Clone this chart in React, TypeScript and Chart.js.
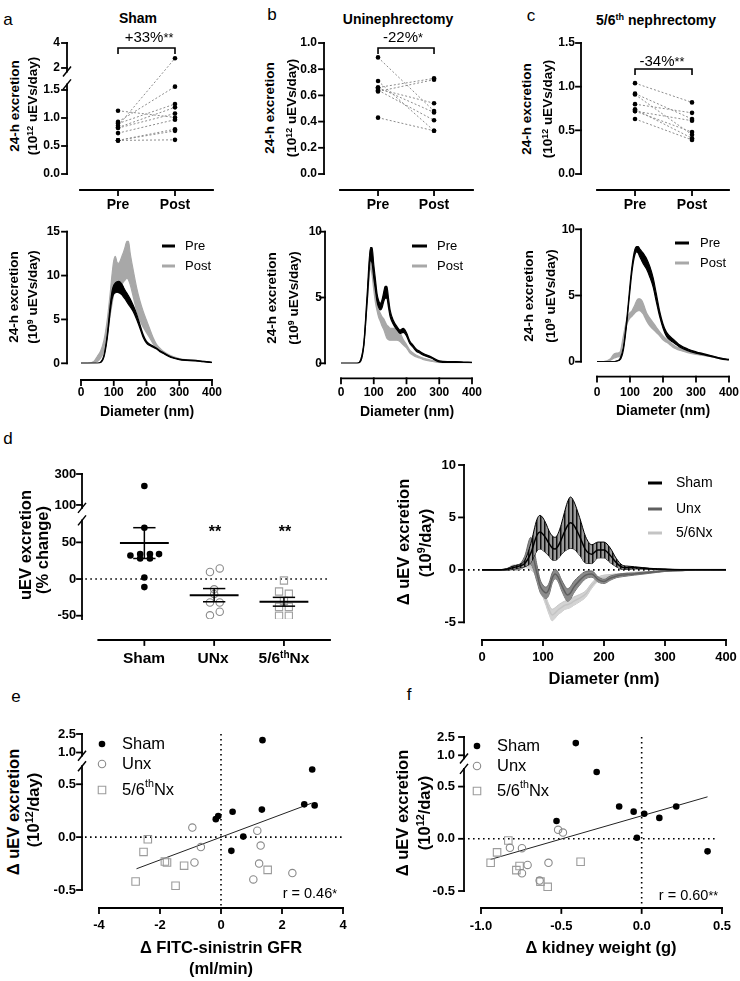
import React, { useEffect, useRef } from 'react';
import { Chart, registerables } from 'chart.js';

Chart.register(...registerables);

const FONT = '"Liberation Sans", Arial, Helvetica, sans-serif';

// ---------------- a–c (top): paired 24-h excretion (10^12 uEVs/day) ----------------
const pairLabels = ['Pre', 'Post'];
const shamPre = [0.86, 0.93, 1.13, 0.9, 0.83, 0.82, 0.73, 0.6, 0.6, 0.6];
const shamPost = [2.78, 1.56, 1.01, 1.25, 1.19, 1.08, 0.97, 0.8, 0.77, 0.61];
const unxPre = [0.89, 0.71, 0.66, 0.65, 0.64, 0.63, 0.66, 0.43];
const unxPost = [0.48, 0.33, 0.73, 0.54, 0.41, 0.72, 0.47, 0.33];
const nxPre = [1.04, 0.92, 0.91, 0.8, 0.74, 0.72, 0.72, 0.63];
const nxPost = [0.82, 0.63, 0.45, 0.7, 0.41, 0.61, 0.48, 0.39];
const shamTopTicks = [0, 0.5, 1, 1.5, 2, 4];
const shamTopLabels = ['0.0', '0.5', '1.0', '1.5', '2', '4'];
const unxTopTicks = [0, 0.2, 0.4, 0.6, 0.8, 1.0];
const unxTopLabels = ['0.0', '0.2', '0.4', '0.6', '0.8', '1.0'];
const nxTopTicks = [0, 0.5, 1.0, 1.5];
const nxTopLabels = ['0.0', '0.5', '1.0', '1.5'];

// ---------------- a–c (bottom): size distributions (10^9 uEVs/day) ----------------
const diam = [0, 20, 40, 50, 60, 70, 80, 90, 95, 100, 105, 110, 115, 120, 125, 130, 135, 140, 145, 150, 160, 170, 180, 190, 200, 210, 220, 230, 240, 250, 275, 300, 325, 350, 375, 400];
const diamTicks = [0, 100, 200, 300, 400];
const diamLabels = ['0', '100', '200', '300', '400'];

const shamPreMean = [0, 0, 0, 0, 0.1, 0.8, 3.0, 6.5, 7.8, 8.4, 8.6, 8.7, 8.7, 8.6, 8.4, 8.1, 7.8, 7.5, 7.2, 6.9, 6.2, 5.3, 4.2, 3.1, 2.4, 2.1, 1.9, 1.7, 1.4, 1.2, 0.7, 0.45, 0.35, 0.3, 0.2, 0.1];
const shamPreSem = [0, 0, 0, 0, 0.02, 0.1, 0.2, 0.35, 0.45, 0.5, 0.55, 0.6, 0.65, 0.65, 0.6, 0.55, 0.5, 0.5, 0.5, 0.45, 0.35, 0.3, 0.2, 0.15, 0.1, 0.08, 0.06, 0.05, 0.05, 0.05, 0.04, 0.03, 0.03, 0.03, 0.02, 0.02];
const shamPostMean = [0, 0, 0.15, 0.5, 1.0, 2.0, 4.0, 7.0, 8.5, 9.8, 10.3, 10.0, 10.0, 10.2, 10.6, 11.0, 11.4, 11.8, 11.7, 10.8, 9.0, 7.3, 6.0, 5.0, 4.2, 3.4, 2.6, 2.0, 1.6, 1.3, 0.8, 0.5, 0.35, 0.3, 0.2, 0.1];
const shamPostSem = [0, 0, 0.1, 0.3, 0.4, 0.6, 0.9, 1.3, 1.7, 1.9, 1.9, 1.5, 1.4, 1.5, 1.6, 1.7, 1.9, 2.1, 2.2, 1.8, 1.5, 1.3, 1.1, 0.9, 0.7, 0.5, 0.35, 0.2, 0.15, 0.1, 0.05, 0.05, 0.04, 0.03, 0.03, 0.02];

const unxPreMean = [0, 0, 0, 0, 0.2, 1.5, 5.0, 8.3, 8.2, 7.0, 6.0, 5.0, 4.5, 4.3, 4.5, 5.0, 5.4, 5.4, 4.6, 3.8, 3.1, 2.7, 2.4, 2.5, 2.2, 1.6, 1.3, 1.0, 0.85, 0.7, 0.45, 0.15, 0.1, 0.1, 0.08, 0.05];
const unxPreSem = [0, 0, 0, 0, 0.05, 0.1, 0.3, 0.5, 0.6, 0.5, 0.4, 0.3, 0.25, 0.25, 0.3, 0.35, 0.45, 0.45, 0.35, 0.25, 0.15, 0.12, 0.12, 0.15, 0.12, 0.1, 0.08, 0.08, 0.07, 0.06, 0.05, 0.04, 0.03, 0.03, 0.02, 0.02];
const unxPostMean = [0, 0, 0, 0, 0.2, 1.5, 4.8, 7.6, 7.2, 6.0, 5.0, 4.3, 3.8, 3.5, 3.2, 3.0, 2.7, 2.4, 2.3, 2.2, 2.2, 2.2, 2.0, 1.6, 1.3, 0.9, 0.7, 0.55, 0.45, 0.35, 0.2, 0.08, 0.05, 0.05, 0.05, 0.05];
const unxPostSem = [0, 0, 0, 0, 0.05, 0.1, 0.2, 0.4, 0.5, 0.4, 0.35, 0.3, 0.3, 0.3, 0.35, 0.4, 0.45, 0.5, 0.5, 0.45, 0.45, 0.45, 0.35, 0.2, 0.12, 0.1, 0.08, 0.06, 0.05, 0.05, 0.04, 0.03, 0.02, 0.02, 0.02, 0.02];

const nxPreMean = [0, 0, 0, 0, 0.05, 0.2, 1.0, 3.0, 4.3, 5.6, 6.8, 7.7, 8.3, 8.5, 8.45, 8.2, 8.0, 7.8, 7.6, 7.4, 6.8, 6.0, 4.8, 3.6, 2.7, 2.1, 1.8, 1.6, 1.4, 1.2, 0.9, 0.7, 0.55, 0.4, 0.25, 0.15];
const nxPreSem = [0, 0, 0, 0, 0, 0.05, 0.1, 0.15, 0.15, 0.2, 0.2, 0.2, 0.2, 0.2, 0.25, 0.3, 0.35, 0.4, 0.4, 0.4, 0.4, 0.35, 0.3, 0.2, 0.15, 0.15, 0.15, 0.12, 0.1, 0.08, 0.06, 0.05, 0.04, 0.03, 0.03, 0.02];
const nxPostMean = [0, 0, 0.15, 0.4, 0.5, 0.6, 1.8, 3.0, 3.3, 3.5, 3.6, 3.8, 4.0, 4.2, 4.3, 4.3, 4.2, 4.0, 3.7, 3.4, 3.0, 2.7, 2.4, 2.1, 1.8, 1.6, 1.4, 1.2, 1.05, 0.95, 0.75, 0.6, 0.5, 0.4, 0.25, 0.15];
const nxPostSem = [0, 0, 0.05, 0.15, 0.15, 0.15, 0.15, 0.2, 0.2, 0.2, 0.2, 0.25, 0.3, 0.4, 0.45, 0.45, 0.45, 0.4, 0.35, 0.3, 0.3, 0.25, 0.2, 0.15, 0.15, 0.12, 0.1, 0.1, 0.08, 0.08, 0.06, 0.05, 0.04, 0.04, 0.03, 0.02];

// ---------------- d (left): % change ----------------
const groupLabels = ['Sham', 'UNx', '5/6thNx'];
const shamPct = [222, 70, 32, 34, 34, 34, 28, 28, 2, -11];
const shamSpread = [0, 0, -0.2, -0.06, 0.08, 0.21, -0.06, 0.08, 0, 0];
const unxPct = [14.5, 9.6, -14, -20.5, -32, -32, -44.6, -49.5];
const unxSpread = [0.08, -0.06, 0, 0, -0.06, 0.08, 0.08, -0.06];
const nxPct = [-2, -17, -20, -30, -38, -38, -50, -50];
const nxSpread = [0, -0.07, 0.07, 0, -0.07, 0.07, -0.07, 0.07];
const pctMean = [49, -22, -31];
const pctSemHi = [70, -13, -25];
const pctSemLo = [28, -31, -37];
const pctTicks = [-50, 0, 50, 100, 300];
const pctTickLabels = ['-50', '0', '50', '100', '300'];

// ---------------- d (right): delta distributions (10^9/day) ----------------
const dShamMean = [0, 0, 0.05, 0.2, 0.35, 0.6, 1.6, 3.3, 3.6, 3.4, 3.0, 2.5, 2.1, 2.0, 2.3, 2.9, 3.6, 4.2, 4.5, 4.3, 3.2, 1.9, 1.5, 1.9, 1.9, 1.4, 0.7, 0.25, 0.2, 0.2, 0.1, 0.05, 0.02, 0.02, 0.02, 0.02];
const dShamSem = [0, 0, 0.05, 0.15, 0.15, 0.3, 0.9, 1.5, 1.6, 1.55, 1.4, 1.2, 1.15, 1.1, 1.2, 1.45, 1.85, 2.25, 2.45, 2.3, 1.8, 1.25, 0.9, 0.75, 0.75, 0.7, 0.4, 0.2, 0.15, 0.1, 0.05, 0.03, 0.02, 0.02, 0.02, 0.02];
const dUnxMean = [0, 0, 0, 0.1, 0.2, 0.8, 1.8, -0.3, -1.5, -2.0, -2.2, -1.8, -0.8, -0.4, -0.7, -1.4, -2.0, -2.4, -2.2, -1.7, -1.0, -0.5, -0.4, -0.9, -1.1, -0.8, -0.6, -0.5, -0.45, -0.4, -0.25, -0.1, -0.05, 0, 0, 0];
const dUnxSem = [0, 0, 0, 0.1, 0.2, 0.5, 1.3, 0.8, 0.6, 0.55, 0.55, 0.55, 0.5, 0.45, 0.45, 0.5, 0.55, 0.6, 0.6, 0.55, 0.45, 0.35, 0.3, 0.25, 0.2, 0.2, 0.15, 0.15, 0.12, 0.1, 0.08, 0.05, 0.03, 0.02, 0.02, 0.02];
const dNxMean = [0, 0, 0.05, 0.3, 0.35, 0.4, 0.3, -0.4, -1.2, -2.2, -3.0, -3.8, -4.3, -4.1, -3.8, -3.6, -3.4, -3.3, -3.2, -3.0, -2.7, -2.3, -1.5, -0.9, -0.7, -0.6, -0.5, -0.45, -0.35, -0.3, -0.2, -0.1, -0.05, -0.02, 0, 0];
const dNxSem = [0, 0, 0.05, 0.15, 0.15, 0.2, 0.3, 0.3, 0.35, 0.4, 0.4, 0.45, 0.55, 0.5, 0.45, 0.45, 0.4, 0.4, 0.4, 0.4, 0.35, 0.3, 0.25, 0.2, 0.2, 0.15, 0.12, 0.1, 0.1, 0.08, 0.06, 0.05, 0.03, 0.02, 0.02, 0.02];
const deltaTicks = [-5, 0, 5, 10];
const deltaLabels = ['-5', '0', '5', '10'];

// ---------------- e / f: correlations (10^12/day) ----------------
const corrTicks = [-0.5, 0, 0.5, 1.0, 2.5];
const corrTickLabels = ['-0.5', '0.0', '0.5', '1.0', '2.5'];
const eShamX = [1.36, 2.99, 2.73, 3.07, 1.34, 0.38, -0.09, -0.17, 0.73, 0.34];
const eShamY = [2.0, 0.64, 0.31, 0.3, 0.26, 0.24, 0.2, 0.17, 0.005, -0.13];
const eUnxX = [-0.94, -0.66, -0.87, 1.19, 1.3, 1.25, 1.06, 2.34];
const eUnxY = [0.09, -0.094, -0.24, 0.06, -0.08, -0.25, -0.4, -0.34];
const eNxX = [-2.4, -2.54, -1.84, -1.77, -1.21, 1.53, -2.8, -1.49];
const eNxY = [-0.02, -0.14, -0.23, -0.24, -0.27, -0.31, -0.42, -0.46];
const eXTicks = [-4, -2, 0, 2, 4];
const eXLabels = ['-4', '-2', '0', '2', '4'];
const eReg = { slope: 0.108, intercept: 0.0, from: -2.77, to: 2.97 };

const fShamX = [-0.41, -0.28, -0.14, -0.05, 0.016, 0.11, 0.215, -0.53, -0.03, 0.41];
const fShamY = [2.0, 0.64, 0.31, 0.26, 0.24, 0.2, 0.31, 0.17, 0.01, -0.12];
const fUnxX = [-0.52, -0.49, -0.82, -0.745, -0.71, -0.745, -0.58, -0.635];
const fUnxY = [0.086, 0.06, -0.086, -0.09, -0.25, -0.33, -0.23, -0.4];
const fNxX = [-0.83, -0.9, -0.94, -0.76, -0.78, -0.63, -0.585, -0.38];
const fNxY = [-0.016, -0.13, -0.23, -0.26, -0.3, -0.41, -0.46, -0.22];
const fXTicks = [-1, -0.5, 0, 0.5];
const fXLabels = ['-1.0', '-0.5', '0.0', '0.5'];
const fReg = { slope: 0.444, intercept: 0.22, from: -0.94, to: 0.41 };
const corrLegend = ['Sham', 'Unx', '5/6^{th}Nx'];

// ---------------- broken-axis transforms ----------------
const fwdA = (v: number) => (v <= 1.7 ? v : 1.893 + (v - 2) * 0.223);
const fwdD = (v: number) => (v <= 90 ? v : 101 + (v - 100) * 0.211);
const fwdEF = (v: number) => (v <= 0.75 ? v : 0.8 + (v - 1) * 0.1167);
const ident = (v: number) => v;

type Rect = { x: number; y: number; w: number; h: number };
type Area = { l: number; t: number; r: number; b: number };

function seg(ctx: any, x0: number, y0: number, x1: number, y1: number) {
  ctx.beginPath();
  ctx.moveTo(x0, y0);
  ctx.lineTo(x1, y1);
  ctx.stroke();
}

function drawRich(ctx: any, s: string, x: number, y: number, size: number, weight = 'normal') {
  const parts = s.split(/(\^\{[^}]*\})/).filter(Boolean);
  let cx = x;
  ctx.textAlign = 'left';
  ctx.textBaseline = 'middle';
  for (const p of parts) {
    const sup = p.startsWith('^{');
    const t = sup ? p.slice(2, -1) : p;
    ctx.font = `${weight} ${sup ? size * 0.65 : size}px ${FONT}`;
    ctx.fillText(t, cx, sup ? y - size * 0.38 : y);
    cx += ctx.measureText(t).width;
  }
}

interface ScaleSpec {
  xMin: number; xMax: number; xTicks: number[]; xLabels: string[]; xPad: number; xFont: number; xShow?: boolean;
  yMin: number; yMax: number; yTicks: number[]; yLabels: string[]; yPad: number; yFont: number;
}

function baseOptions(rect: Rect, area: Area, s: ScaleSpec): any {
  const yW = area.l - rect.x;
  const xH = rect.y + rect.h - area.b;
  const tf = (size: number) => ({ family: FONT, size, weight: 'bold' });
  return {
    responsive: false,
    animation: false,
    events: [],
    layout: { padding: { top: area.t - rect.y, right: rect.x + rect.w - area.r, left: 0, bottom: 0 } },
    plugins: { legend: { display: false }, tooltip: { enabled: false } },
    scales: {
      x: {
        type: 'linear', min: s.xMin, max: s.xMax,
        grid: { display: false, drawTicks: false }, border: { display: false },
        afterBuildTicks: (sc: any) => { sc.ticks = s.xTicks.map((value) => ({ value })); },
        afterFit: (sc: any) => { sc.height = xH; sc.paddingLeft = 0; sc.paddingRight = 0; },
        ticks: {
          display: s.xShow !== false, padding: s.xPad, color: '#000', autoSkip: false, maxRotation: 0, minRotation: 0,
          font: tf(s.xFont), callback: (_v: any, i: number) => s.xLabels[i],
        },
      },
      y: {
        type: 'linear', min: s.yMin, max: s.yMax,
        grid: { display: false, drawTicks: false }, border: { display: false },
        afterBuildTicks: (sc: any) => { sc.ticks = s.yTicks.map((value) => ({ value })); },
        afterFit: (sc: any) => { sc.width = yW; sc.paddingTop = 0; sc.paddingBottom = 0; },
        ticks: { padding: s.yPad, color: '#000', autoSkip: false, font: tf(s.yFont), callback: (_v: any, i: number) => s.yLabels[i] },
      },
    },
  };
}

interface AxesOpt {
  yDx: number; xDy: number; ySegs?: number[][]; breaks?: number[];
  hDot?: { v: number; left: number; right?: number }; vDot?: number;
}

function gpAxes(o: AxesOpt) {
  return {
    id: 'gpAxes',
    beforeDatasetsDraw(chart: any) {
      const { ctx, chartArea: a, scales } = chart;
      ctx.save();
      ctx.strokeStyle = '#000';
      ctx.lineWidth = 1.6;
      ctx.setLineDash([1.6, 3.4]);
      if (o.hDot) {
        const py = scales.y.getPixelForValue(o.hDot.v);
        seg(ctx, a.left - o.hDot.left, py, a.right - (o.hDot.right ?? 0), py);
      }
      if (o.vDot !== undefined) {
        const px = scales.x.getPixelForValue(o.vDot);
        seg(ctx, px, a.top, px, a.bottom + o.xDy);
      }
      ctx.restore();
    },
    afterDraw(chart: any) {
      const { ctx, chartArea: a, scales } = chart;
      const x = scales.x;
      const y = scales.y;
      ctx.save();
      ctx.strokeStyle = '#000';
      ctx.lineWidth = 1.8;
      ctx.lineCap = 'square';
      const X = a.left - o.yDx;
      const segs = o.ySegs ?? [[y.min, y.max]];
      segs.forEach(([s0, s1]) => seg(ctx, X, y.getPixelForValue(s0), X, y.getPixelForValue(s1)));
      y.ticks.forEach((t: any) => { const py = y.getPixelForValue(t.value); seg(ctx, X - 5, py, X, py); });
      const Y = a.bottom + o.xDy;
      seg(ctx, a.left, Y, a.right, Y);
      x.ticks.forEach((t: any) => { const px = x.getPixelForValue(t.value); seg(ctx, px, Y, px, Y + 5); });
      ctx.lineCap = 'butt';
      ctx.lineWidth = 1.5;
      (o.breaks ?? []).forEach((v) => { const py = y.getPixelForValue(v); seg(ctx, X - 4, py + 5, X + 4, py - 5); });
      ctx.restore();
    },
  };
}

function bracket(dy: number) {
  return {
    id: 'bracket',
    afterDraw(chart: any) {
      const { ctx, chartArea: a, scales } = chart;
      const x0 = scales.x.getPixelForValue(0);
      const x1 = scales.x.getPixelForValue(1);
      const yb = a.top + dy;
      ctx.save();
      ctx.strokeStyle = '#000';
      ctx.lineWidth = 1.6;
      ctx.beginPath();
      ctx.moveTo(x0, yb + 6);
      ctx.lineTo(x0, yb);
      ctx.lineTo(x1, yb);
      ctx.lineTo(x1, yb + 6);
      ctx.stroke();
      ctx.restore();
    },
  };
}

function legendLines(rect: Rect, o: { x0: number; x1: number; tx: number; ys: number[]; ds: number[]; size: number }) {
  return {
    id: 'legendLines',
    afterDraw(chart: any) {
      const ctx = chart.ctx;
      ctx.save();
      o.ds.forEach((di, k) => {
        const d = chart.data.datasets[di];
        const y = o.ys[k] - rect.y;
        ctx.strokeStyle = d.borderColor;
        ctx.lineWidth = 3;
        seg(ctx, o.x0 - rect.x, y, o.x1 - rect.x, y);
        ctx.fillStyle = '#000';
        drawRich(ctx, d.label, o.tx - rect.x, y, o.size);
      });
      ctx.restore();
    },
  };
}

function drawMarker(ctx: any, d: any, x: number, y: number) {
  const r = d.pointRadius;
  ctx.beginPath();
  if (d.pointStyle === 'rect') {
    const s = r * Math.SQRT1_2;
    ctx.rect(x - s, y - s, 2 * s, 2 * s);
  } else {
    ctx.arc(x, y, r, 0, Math.PI * 2);
  }
  ctx.fillStyle = d.pointBackgroundColor;
  ctx.fill();
  if (d.pointBorderWidth) {
    ctx.lineWidth = d.pointBorderWidth;
    ctx.strokeStyle = d.pointBorderColor;
    ctx.stroke();
  }
}

function legendPoints(rect: Rect, o: { mx: number; tx: number; ys: number[]; ds: number[]; size: number }) {
  return {
    id: 'legendPoints',
    afterDraw(chart: any) {
      const ctx = chart.ctx;
      ctx.save();
      o.ds.forEach((di, k) => {
        const d = chart.data.datasets[di];
        const y = o.ys[k] - rect.y;
        drawMarker(ctx, d, o.mx - rect.x, y);
        ctx.fillStyle = '#000';
        drawRich(ctx, d.label, o.tx - rect.x, y, o.size);
      });
      ctx.restore();
    },
  };
}

function meanSem(fwd: (v: number) => number) {
  return {
    id: 'meanSem',
    afterDatasetsDraw(chart: any) {
      const { ctx, scales } = chart;
      const px = (v: number) => scales.x.getPixelForValue(v);
      const py = (v: number) => scales.y.getPixelForValue(fwd(v));
      ctx.save();
      ctx.strokeStyle = '#000';
      pctMean.forEach((m, i) => {
        ctx.lineWidth = 2;
        seg(ctx, px(i - 0.35), py(m), px(i + 0.35), py(m));
        ctx.lineWidth = 1.5;
        seg(ctx, px(i), py(pctSemLo[i]), px(i), py(pctSemHi[i]));
        seg(ctx, px(i - 0.16), py(pctSemHi[i]), px(i + 0.16), py(pctSemHi[i]));
        seg(ctx, px(i - 0.16), py(pctSemLo[i]), px(i + 0.16), py(pctSemLo[i]));
      });
      ctx.restore();
    },
  };
}

const pts = (ys: number[]) => ys.map((y, i) => ({ x: diam[i], y }));
const addSem = (m: number[], s: number[], k: number) => m.map((v, i) => v + k * s[i]);

function bandSets(label: string, m: number[], s: number[], fill: any, edge: string, lw: number) {
  return [
    { label, data: pts(addSem(m, s, 1)), borderColor: edge, borderWidth: lw, backgroundColor: fill, fill: '+1', pointRadius: 0, cubicInterpolationMode: 'monotone' },
    { data: pts(addSem(m, s, -1)), borderColor: edge, borderWidth: lw, fill: false, pointRadius: 0, cubicInterpolationMode: 'monotone' },
  ];
}

// ---------------- chart builders ----------------
function makePaired(rect: Rect, area: Area, pre: number[], post: number[], fwd: (v: number) => number, yMax: number,
  yTicks: number[], yLabels: string[], yPad: number, xMin: number, xMax: number, axes: AxesOpt, brDy: number) {
  const options = baseOptions(rect, area, {
    xMin, xMax, xTicks: [0, 1], xLabels: pairLabels, xPad: 22.6, xFont: 14,
    yMin: 0, yMax, yTicks: yTicks.map(fwd), yLabels, yPad, yFont: 12,
  });
  return {
    type: 'scatter',
    data: {
      datasets: pre.map((p, i) => ({
        data: [{ x: 0, y: fwd(p) }, { x: 1, y: fwd(post[i]) }],
        showLine: true, borderColor: '#8c8c8c', borderWidth: 1, borderDash: [2, 2],
        pointRadius: 2.3, pointBackgroundColor: '#000', pointBorderWidth: 0,
      })),
    },
    options,
    plugins: [gpAxes(axes), bracket(brDy)],
  };
}

function makeDist(rect: Rect, area: Area, preM: number[], preS: number[], postM: number[], postS: number[], yMax: number,
  yTicks: number[], yPad: number, xPad: number, axes: AxesOpt, leg: { x0: number; x1: number; tx: number; ys: number[] }) {
  const options = baseOptions(rect, area, {
    xMin: 0, xMax: 400, xTicks: diamTicks, xLabels: diamLabels, xPad, xFont: 12,
    yMin: 0, yMax, yTicks, yLabels: yTicks.map(String), yPad, yFont: 12,
  });
  return {
    type: 'line',
    data: {
      datasets: [
        ...bandSets('Pre', preM, preS, '#000', '#000', 1.2),
        ...bandSets('Post', postM, postS, '#a8a8a8', '#a8a8a8', 1.2),
      ],
    },
    options,
    plugins: [gpAxes(axes), legendLines(rect, { ...leg, ds: [0, 2], size: 13 })],
  };
}

function stripes() {
  const c = document.createElement('canvas');
  c.width = 4;
  c.height = 4;
  const g = c.getContext('2d')!;
  g.fillStyle = '#9a9a9a';
  g.fillRect(0, 0, 4, 4);
  g.fillStyle = '#111';
  g.fillRect(0, 0, 1, 4);
  g.fillStyle = '#555';
  g.fillRect(1, 0, 1, 4);
  return g.createPattern(c, 'repeat');
}

function makeDelta(rect: Rect, area: Area) {
  const options = baseOptions(rect, area, {
    xMin: 0, xMax: 400, xTicks: diamTicks, xLabels: diamLabels, xPad: 27.3, xFont: 13,
    yMin: -5, yMax: 10, yTicks: deltaTicks, yLabels: deltaLabels, yPad: 26, yFont: 13,
  });
  const meanSet = (label: string, m: number[], color: string) => ({ label, data: pts(m), borderColor: color, borderWidth: 1.5, pointRadius: 0, fill: false, cubicInterpolationMode: 'monotone' });
  const sb = bandSets('', dShamMean, dShamSem, stripes(), '#000', 1);
  const ub = bandSets('', dUnxMean, dUnxSem, '#8a8a8a', '#6a6a6a', 1);
  const nb = bandSets('', dNxMean, dNxSem, '#d3d3d3', '#c6c6c6', 1);
  return {
    type: 'line',
    data: {
      datasets: [
        meanSet('Sham', dShamMean, '#000'), ...sb,
        meanSet('Unx', dUnxMean, '#5f5f5f'), ...ub,
        meanSet('5/6Nx', dNxMean, '#c4c4c4'), ...nb,
      ],
    },
    options,
    plugins: [
      gpAxes({ yDx: 18, xDy: 17.7, hDot: { v: 0, left: 14 } }),
      legendLines(rect, { x0: 648, x1: 662, tx: 676, ys: [483, 509, 533], ds: [0, 3, 6], size: 14 }),
    ],
  };
}

function makePct(rect: Rect, area: Area) {
  const options = baseOptions(rect, area, {
    xMin: -0.66, xMax: 2.66, xTicks: [0, 1, 2], xLabels: groupLabels, xPad: 20, xFont: 15, xShow: false,
    yMin: -54.5, yMax: fwdD(300), yTicks: pctTicks.map(fwdD), yLabels: pctTickLabels, yPad: 22, yFont: 13,
  });
  const toPts = (v: number[], sp: number[], g: number) => v.map((y, i) => ({ x: g + sp[i], y: fwdD(y) }));
  return {
    type: 'scatter',
    data: {
      datasets: [
        { data: toPts(shamPct, shamSpread, 0), pointRadius: 3.3, pointBackgroundColor: '#000', pointBorderWidth: 0 },
        { data: toPts(unxPct, unxSpread, 1), pointRadius: 3.7, pointBackgroundColor: 'rgba(255,255,255,0)', pointBorderColor: '#8a8a8a', pointBorderWidth: 1.1 },
        { data: toPts(nxPct, nxSpread, 2), pointStyle: 'rect', pointRadius: 5.1, pointBackgroundColor: 'rgba(255,255,255,0)', pointBorderColor: '#a0a0a0', pointBorderWidth: 1.1 },
      ],
    },
    options,
    plugins: [
      gpAxes({ yDx: 16.3, xDy: 21, ySegs: [[-54.5, 80], [97, fwdD(300)]], breaks: [80, 97], hDot: { v: 0, left: 13 } }),
      meanSem(fwdD),
    ],
  };
}

function makeCorr(rect: Rect, area: Area, sx: number[], sy: number[], ux: number[], uy: number[], nx: number[], ny: number[],
  xMin: number, xMax: number, xTicks: number[], xLabels: string[], xPad: number, yPad: number, reg: any, axes: AxesOpt,
  leg: { mx: number; tx: number; ys: number[] }) {
  const options = baseOptions(rect, area, {
    xMin, xMax, xTicks, xLabels, xPad, xFont: 13,
    yMin: -0.5, yMax: fwdEF(2.5), yTicks: corrTicks.map(fwdEF), yLabels: corrTickLabels, yPad, yFont: 13,
  });
  const toPts = (xs: number[], ys: number[]) => xs.map((x, i) => ({ x, y: fwdEF(ys[i]) }));
  return {
    type: 'scatter',
    data: {
      datasets: [
        { label: corrLegend[0], data: toPts(sx, sy), pointRadius: 3.3, pointBackgroundColor: '#000', pointBorderWidth: 0 },
        { label: corrLegend[1], data: toPts(ux, uy), pointRadius: 3.7, pointBackgroundColor: 'rgba(255,255,255,0)', pointBorderColor: '#8a8a8a', pointBorderWidth: 1.1 },
        { label: corrLegend[2], data: toPts(nx, ny), pointStyle: 'rect', pointRadius: 5.3, pointBackgroundColor: 'rgba(255,255,255,0)', pointBorderColor: '#9c9c9c', pointBorderWidth: 1.1 },
        {
          data: [reg.from, reg.to].map((x) => ({ x, y: reg.slope * x + reg.intercept })),
          showLine: true, borderColor: '#222', borderWidth: 1, pointRadius: 0,
        },
      ],
    },
    options,
    plugins: [gpAxes(axes), legendPoints(rect, { ...leg, ds: [0, 1, 2], size: 16.5 })],
  };
}

// ---------------- layout ----------------
const R = {
  aTop: { x: 30, y: 28, w: 200, h: 196 }, bTop: { x: 285, y: 28, w: 200, h: 196 }, cTop: { x: 540, y: 28, w: 200, h: 196 },
  aBot: { x: 30, y: 222, w: 200, h: 184 }, bBot: { x: 285, y: 222, w: 200, h: 184 }, cBot: { x: 540, y: 220, w: 200, h: 186 },
  dL: { x: 40, y: 462, w: 300, h: 188 }, dR: { x: 400, y: 455, w: 340, h: 215 },
  e: { x: 40, y: 720, w: 320, h: 220 }, f: { x: 400, y: 720, w: 340, h: 220 },
};

const builders: { rect: Rect; make: () => any }[] = [
  { rect: R.aTop, make: () => makePaired(R.aTop, { l: 80, t: 43, r: 213, b: 174 }, shamPre, shamPost, fwdA, fwdA(4), shamTopTicks, shamTopLabels, 20, -0.667, 1.667, { yDx: 13, xDy: 16, ySegs: [[0, 1.6], [1.83, fwdA(4)]], breaks: [1.6, 1.83] }, 5) },
  { rect: R.bTop, make: () => makePaired(R.bTop, { l: 340, t: 43, r: 473, b: 174 }, unxPre, unxPost, ident, 1.0, unxTopTicks, unxTopLabels, 23, -0.679, 1.696, { yDx: 16, xDy: 16 }, 5) },
  { rect: R.cTop, make: () => makePaired(R.cTop, { l: 597, t: 43, r: 729, b: 174 }, nxPre, nxPost, ident, 1.5, nxTopTicks, nxTopLabels, 22, -0.667, 1.649, { yDx: 16, xDy: 16 }, 26) },
  { rect: R.aBot, make: () => makeDist(R.aBot, { l: 81, t: 231.7, r: 212, b: 363.3 }, shamPreMean, shamPreSem, shamPostMean, shamPostSem, 15, [0, 5, 10, 15], 21, 22.5, { yDx: 14, xDy: 16.7 }, { x0: 162, x1: 175, tx: 185, ys: [246, 266] }) },
  { rect: R.bBot, make: () => makeDist(R.bBot, { l: 341, t: 231.7, r: 472, b: 363.3 }, unxPreMean, unxPreSem, unxPostMean, unxPostSem, 10, [0, 5, 10], 19, 22.5, { yDx: 16, xDy: 15 }, { x0: 412, x1: 427, tx: 437, ys: [246, 266] }) },
  { rect: R.cBot, make: () => makeDist(R.cBot, { l: 597, t: 229.3, r: 729, b: 361.7 }, nxPreMean, nxPreSem, nxPostMean, nxPostSem, 10, [0, 5, 10], 22, 24, { yDx: 16, xDy: 15 }, { x0: 675, x1: 689, tx: 700, ys: [243, 263] }) },
  { rect: R.dL, make: () => makePct(R.dL, { l: 98.3, t: 474, r: 330, b: 619 }) },
  { rect: R.dR, make: () => makeDelta(R.dR, { l: 482, t: 465, r: 726, b: 622.3 }) },
  { rect: R.e, make: () => makeCorr(R.e, { l: 99, t: 734, r: 343, b: 890 }, eShamX, eShamY, eUnxX, eUnxY, eNxX, eNxY, -4, 4, eXTicks, eXLabels, 28, 23, eReg, { yDx: 17, xDy: 18, ySegs: [[-0.5, 0.67], [0.77, fwdEF(2.5)]], breaks: [0.67, 0.77], hDot: { v: 0, left: 14 }, vDot: 0 }, { mx: 102, tx: 122, ys: [744, 764, 790] }) },
  { rect: R.f, make: () => makeCorr(R.f, { l: 481, t: 737, r: 722, b: 891 }, fShamX, fShamY, fUnxX, fUnxY, fNxX, fNxY, -1, 0.5, fXTicks, fXLabels, 27.5, 26, fReg, { yDx: 17, xDy: 17, ySegs: [[-0.5, 0.67], [0.77, fwdEF(2.5)]], breaks: [0.67, 0.77], hDot: { v: 0, left: 13, right: 4 }, vDot: 0 }, { mx: 477, tx: 497, ys: [746, 766, 791] }) },
];

function ChartBox({ rect, make }: { rect: Rect; make: () => any }) {
  const ref = useRef<HTMLCanvasElement>(null);
  useEffect(() => {
    const chart = new Chart(ref.current as HTMLCanvasElement, make());
    return () => chart.destroy();
  }, []);
  return (
    <canvas ref={ref} width={rect.w} height={rect.h}
      style={{ position: 'absolute', left: rect.x, top: rect.y, width: rect.w, height: rect.h }} />
  );
}

function T({ x, y, size, bold, rot, align = 'c', children }: any) {
  const tx = align === 'c' ? '-50%' : align === 'r' ? '-100%' : '0%';
  return (
    <div style={{
      position: 'absolute', left: x, top: y, transform: `translate(${tx}, -50%)${rot ? ' rotate(-90deg)' : ''}`,
      fontSize: size, fontWeight: bold ? 700 : 400, lineHeight: 1, whiteSpace: 'nowrap',
    }}>{children}</div>
  );
}

const Sup = ({ children, s = 0.65 }: any) => (
  <sup style={{ fontSize: `${s}em`, verticalAlign: '0.5em', lineHeight: 0 }}>{children}</sup>
);
const Star = ({ children }: any) => <span style={{ fontSize: '0.85em' }}>{children}</span>;

export default function App() {
  useEffect(() => { document.body.style.margin = '0'; }, []);
  return (
    <div style={{ position: 'absolute', left: 0, top: 0, width: 740, height: 981, background: '#fff', color: '#000', fontFamily: FONT, overflow: 'hidden' }}>
      {builders.map((b, i) => <ChartBox key={i} rect={b.rect} make={b.make} />)}

      {/* panel letters */}
      <T x={8} y={19} size={17}>a</T>
      <T x={272} y={14} size={17}>b</T>
      <T x={531} y={15} size={17}>c</T>
      <T x={8} y={438} size={17}>d</T>
      <T x={16} y={696} size={17}>e</T>
      <T x={409} y={694} size={17}>f</T>

      {/* titles */}
      <T x={138} y={18} size={14} bold>Sham</T>
      <T x={398} y={19} size={14} bold>Uninephrectomy</T>
      <T x={656} y={20} size={14} bold>5/6<Sup>th</Sup> nephrectomy</T>

      {/* bracket annotations */}
      <T x={149} y={37} size={15}>+33%<Star>**</Star></T>
      <T x={403} y={37} size={15}>-22%<Star>*</Star></T>
      <T x={662} y={61} size={15}>-34%<Star>**</Star></T>

      {/* top y titles */}
      <T x={15} y={106} size={13.5} bold rot>24-h excretion</T>
      <T x={33} y={106} size={13.5} bold rot>(10<Sup>12</Sup> uEVs/day)</T>
      <T x={270} y={108} size={13.5} bold rot>24-h excretion</T>
      <T x={292} y={108} size={13.5} bold rot>(10<Sup>12</Sup> uEVs/day)</T>
      <T x={527} y={109} size={13.5} bold rot>24-h excretion</T>
      <T x={548} y={109} size={13.5} bold rot>(10<Sup>12</Sup> uEVs/day)</T>

      {/* bottom y titles */}
      <T x={14} y={297} size={13.5} bold rot>24-h excretion</T>
      <T x={33} y={297} size={13.5} bold rot>(10<Sup>9</Sup> uEVs/day)</T>
      <T x={272} y={298} size={13.5} bold rot>24-h excretion</T>
      <T x={294} y={298} size={13.5} bold rot>(10<Sup>9</Sup> uEVs/day)</T>
      <T x={529} y={296} size={13.5} bold rot>24-h excretion</T>
      <T x={551} y={296} size={13.5} bold rot>(10<Sup>9</Sup> uEVs/day)</T>
      <T x={147} y={411} size={14} bold>Diameter (nm)</T>
      <T x={407} y={411} size={14} bold>Diameter (nm)</T>
      <T x={663} y={410} size={14} bold>Diameter (nm)</T>

      {/* d left */}
      <T x={25} y={545} size={16.5} bold rot>uEV excretion</T>
      <T x={42} y={550} size={16.5} bold rot>(% change)</T>
      <T x={144} y={658} size={15.5} bold>{groupLabels[0]}</T>
      <T x={213} y={658} size={15.5} bold>{groupLabels[1]}</T>
      <T x={284} y={658} size={15.5} bold>5/6<Sup>th</Sup>Nx</T>
      <T x={215} y={532} size={16} bold>**</T>
      <T x={285} y={532} size={16} bold>**</T>

      {/* d right */}
      <T x={403} y={542} size={16.5} bold rot>Δ uEV excretion</T>
      <T x={425} y={543} size={16.5} bold rot>(10<Sup>9</Sup>/day)</T>
      <T x={604} y={678} size={16.5} bold>Diameter (nm)</T>

      {/* e */}
      <T x={13} y={812} size={16.5} bold rot>Δ uEV excretion</T>
      <T x={33} y={810} size={16.5} bold rot>(10<Sup>12</Sup>/day)</T>
      <T x={221} y={947} size={16.5} bold>Δ FITC-sinistrin GFR</T>
      <T x={221} y={968} size={16.5} bold>(ml/min)</T>
      <T x={337} y={893} size={14.5} align="r">r = 0.46<Star>*</Star></T>

      {/* f */}
      <T x={402} y={813} size={16.5} bold rot>Δ uEV excretion</T>
      <T x={424} y={813} size={16.5} bold rot>(10<Sup>12</Sup>/day)</T>
      <T x={601} y={947} size={16.5} bold>Δ kidney weight (g)</T>
      <T x={718} y={895} size={14.5} align="r">r = 0.60<Star>**</Star></T>
    </div>
  );
}
